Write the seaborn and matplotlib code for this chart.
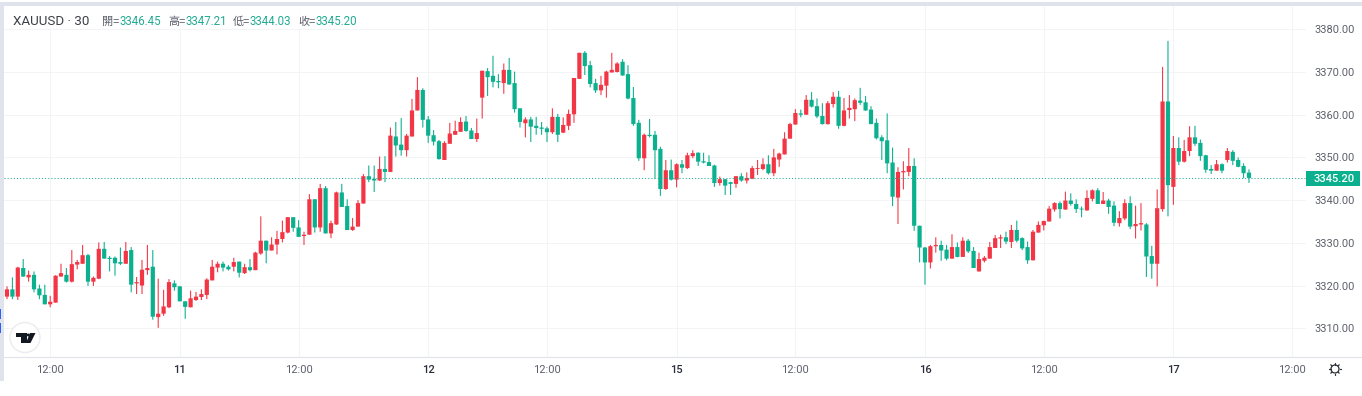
import pandas as pd
import matplotlib
matplotlib.use('Agg')
import matplotlib.pyplot as plt
from matplotlib.patches import Rectangle, Circle, Polygon
import seaborn as sns

opens = [3317.4,3319.1,3317.4,3324.1,3321.9,3322.5,3319.3,3317.8,3315.6,3316.0,
3322.1,3322.5,3320.9,3324.9,3325.1,3327.1,3320.9,3321.6,3328.6,3326.5,
3326.5,3325.5,3325.1,3328.3,3320.5,3320.0,3323.6,3324.4,3312.6,3313.4,
3314.9,3320.5,3319.8,3316.3,3314.9,3316.6,3317.3,3317.8,3321.2,3324.2,
3325.1,3324.4,3324.4,3325.6,3322.9,3324.3,3323.6,3327.5,3330.5,3328.2,
3329.6,3330.9,3332.4,3336.0,3333.6,3331.6,3331.9,3340.2,3333.6,3342.8,
3332.2,3334.3,3341.8,3338.6,3333.0,3333.8,3339.2,3345.6,3345.0,3344.6,
3347.3,3346.6,3354.9,3353.0,3351.7,3354.9,3361.0,3365.8,3358.9,3355.2,
3353.8,3349.4,3353.2,3355.3,3356.0,3358.4,3356.3,3354.3,3364.0,3370.2,
3369.1,3367.9,3367.4,3370.5,3367.4,3361.5,3358.0,3358.9,3357.4,3357.0,
3356.8,3355.9,3359.5,3355.8,3357.4,3360.1,3368.4,3374.5,3371.6,3367.4,
3365.7,3366.8,3369.9,3370.0,3372.4,3369.5,3363.9,3358.1,3349.8,3355.3,
3355.3,3352.0,3342.6,3347.0,3344.8,3348.4,3347.5,3350.3,3351.1,3349.1,
3348.9,3348.1,3344.0,3344.9,3344.2,3343.8,3345.6,3344.6,3345.0,3347.3,
3347.3,3348.4,3346.3,3349.5,3350.7,3354.4,3357.7,3360.3,3360.0,3363.5,
3362.0,3359.7,3357.8,3362.5,3364.2,3357.4,3361.1,3361.3,3363.3,3362.9,
3361.2,3358.1,3354.7,3354.0,3348.8,3340.6,3346.5,3346.6,3348.0,3334.0,
3328.9,3325.4,3329.2,3329.5,3328.4,3326.3,3329.0,3326.7,3330.5,3328.1,
3323.3,3325.8,3326.3,3328.8,3331.0,3331.3,3330.2,3333.0,3331.1,3329.0,
3325.9,3332.4,3334.1,3335.0,3337.8,3339.3,3337.8,3339.9,3339.1,3338.0,
3337.6,3340.3,3342.3,3339.1,3339.9,3338.7,3334.6,3335.7,3339.3,3333.9,
3334.3,3334.3,3326.9,3325.1,3337.9,3363.1,3343.1,3352.2,3349.0,3351.5,
3354.7,3353.4,3350.5,3347.3,3346.9,3348.4,3349.4,3351.3,3349.4,3348.0,
3346.45]
closes = [3319.1,3317.4,3324.2,3322.1,3322.5,3319.1,3317.7,3315.6,3316.2,3322.3,
3322.9,3320.9,3325.0,3325.5,3327.1,3320.9,3321.8,3328.6,3326.3,3326.2,
3325.2,3325.1,3328.1,3320.2,3320.8,3323.7,3324.1,3312.7,3313.4,3315.1,
3320.8,3319.6,3316.3,3315.0,3317.0,3317.4,3318.0,3321.4,3324.4,3325.1,
3324.2,3323.8,3325.5,3323.0,3324.3,3323.6,3327.7,3330.5,3328.2,3329.6,
3330.9,3332.5,3336.0,3333.5,3331.4,3331.9,3340.2,3333.6,3342.8,3332.2,
3334.6,3341.8,3338.4,3333.0,3333.8,3339.3,3345.6,3344.8,3344.6,3347.3,
3346.6,3355.1,3352.8,3351.7,3355.1,3361.0,3365.8,3358.8,3355.1,3353.7,
3349.6,3353.4,3355.6,3356.2,3358.3,3356.2,3354.3,3355.7,3370.3,3368.8,
3367.7,3367.6,3370.5,3367.1,3361.3,3358.3,3358.9,3357.2,3356.9,3356.7,
3355.9,3359.5,3355.3,3357.6,3360.2,3368.6,3374.5,3371.4,3367.2,3365.7,
3367.0,3370.1,3370.5,3372.0,3369.2,3363.8,3357.8,3349.8,3355.3,3355.0,
3351.7,3342.6,3347.0,3344.8,3348.4,3347.6,3350.5,3351.0,3349.0,3348.8,
3348.0,3344.0,3344.9,3343.4,3343.8,3345.6,3344.6,3345.2,3347.5,3347.5,
3348.4,3346.3,3350.0,3350.9,3354.4,3357.8,3360.4,3360.0,3363.5,3361.9,
3359.6,3357.8,3362.7,3364.2,3357.4,3361.0,3361.6,3363.4,3362.8,3361.0,
3357.8,3354.5,3353.8,3348.6,3340.8,3346.6,3346.8,3348.0,3334.0,3328.9,
3325.4,3329.2,3329.5,3328.2,3326.3,3329.0,3326.7,3330.5,3328.0,3324.1,
3326.2,3326.5,3329.0,3331.1,3331.3,3330.3,3333.0,3330.5,3328.7,3325.9,
3332.6,3334.2,3335.1,3338.0,3339.3,3337.9,3339.9,3339.1,3337.9,3337.8,
3340.5,3342.3,3339.1,3339.9,3338.4,3334.7,3335.8,3339.3,3333.8,3334.4,
3334.6,3326.8,3325.1,3338.1,3363.1,3343.5,3352.2,3349.0,3351.5,3354.7,
3353.2,3350.3,3347.1,3346.9,3348.4,3346.9,3351.5,3349.2,3347.8,3346.3,
3345.20]
highs = [3319.8,3321.9,3324.4,3326.2,3323.5,3323.3,3320.2,3320.2,3317.6,3322.4,
3325.1,3324.1,3328.3,3326.0,3329.5,3327.4,3322.1,3330.1,3330.2,3326.9,
3326.8,3328.9,3330.2,3329.0,3322.0,3326.0,3329.5,3328.3,3321.6,3319.0,
3321.5,3321.2,3319.9,3316.3,3318.8,3318.5,3319.1,3321.7,3326.0,3325.6,
3325.6,3324.8,3326.5,3325.6,3325.1,3326.2,3327.9,3336.2,3330.5,3331.3,
3332.8,3335.2,3336.0,3336.0,3335.3,3332.6,3341.4,3340.2,3343.8,3343.3,
3335.2,3342.0,3343.8,3340.2,3335.8,3340.0,3346.1,3348.1,3348.1,3350.2,
3350.3,3357.0,3358.3,3359.2,3355.5,3363.7,3368.8,3366.2,3359.7,3356.4,
3354.1,3353.8,3358.1,3358.6,3359.4,3359.7,3356.9,3359.1,3370.3,3370.9,
3373.8,3369.5,3372.0,3373.3,3370.1,3361.5,3359.4,3359.5,3359.5,3358.3,
3357.2,3361.5,3360.2,3359.4,3361.2,3368.6,3374.5,3374.9,3372.6,3368.4,
3369.1,3370.3,3374.5,3372.3,3373.0,3371.6,3366.5,3358.8,3355.6,3359.0,
3356.2,3352.5,3349.4,3349.5,3348.6,3349.4,3351.1,3351.7,3351.2,3351.1,
3350.5,3348.3,3345.5,3344.9,3344.3,3345.6,3346.3,3346.5,3348.0,3349.4,
3349.8,3350.5,3352.0,3351.1,3355.9,3358.1,3361.3,3361.2,3364.6,3365.3,
3363.8,3362.7,3363.2,3365.3,3365.6,3363.9,3364.6,3363.8,3366.3,3364.4,
3362.0,3359.1,3355.2,3360.3,3352.3,3347.7,3349.1,3352.2,3349.8,3334.0,
3329.0,3329.5,3331.3,3330.5,3329.5,3332.0,3330.1,3331.3,3330.9,3329.0,
3327.7,3326.9,3330.2,3331.8,3331.9,3332.6,3334.2,3335.2,3331.3,3330.3,
3333.0,3335.0,3335.2,3338.6,3339.5,3339.7,3342.0,3341.6,3340.2,3338.5,
3342.3,3342.5,3342.8,3341.9,3340.3,3339.7,3337.4,3340.2,3340.9,3338.7,
3339.3,3334.6,3329.3,3342.5,3371.2,3377.3,3355.0,3354.7,3354.1,3357.3,
3357.4,3354.2,3350.6,3348.2,3349.4,3348.6,3352.2,3351.7,3350.0,3348.6,
3347.21]
lows = [3316.8,3316.8,3316.6,3322.0,3320.9,3318.4,3316.8,3315.6,3314.9,3316.0,
3322.1,3320.7,3320.7,3323.8,3325.1,3319.9,3319.9,3321.5,3326.3,3323.3,
3322.3,3324.8,3325.1,3318.4,3318.0,3318.0,3322.5,3312.0,3310.1,3312.9,
3314.7,3318.8,3316.3,3312.2,3314.9,3316.4,3316.6,3316.8,3321.2,3323.1,
3323.3,3323.5,3323.3,3321.9,3322.7,3323.3,3323.6,3327.2,3325.2,3328.2,
3327.3,3330.1,3332.2,3332.6,3331.4,3329.5,3331.9,3332.4,3332.6,3332.2,
3331.1,3334.2,3338.4,3333.0,3332.8,3333.8,3339.2,3344.2,3341.9,3344.5,
3344.2,3346.6,3350.2,3350.4,3350.2,3354.9,3361.0,3357.0,3353.4,3352.8,
3349.5,3349.4,3353.2,3355.3,3356.0,3356.0,3354.3,3353.6,3359.1,3364.4,
3366.4,3366.2,3364.9,3367.0,3360.5,3357.0,3354.7,3353.6,3355.3,3355.3,
3353.6,3355.5,3353.6,3355.7,3356.4,3358.1,3368.4,3369.3,3366.4,3365.1,
3364.6,3364.0,3369.9,3369.9,3369.1,3363.6,3357.4,3349.2,3347.0,3354.7,
3345.0,3341.0,3342.4,3344.6,3343.0,3346.3,3347.3,3349.8,3348.0,3348.6,
3348.0,3343.1,3343.4,3341.2,3341.2,3342.9,3344.3,3343.9,3344.9,3345.9,
3347.0,3346.0,3345.6,3347.8,3350.7,3354.4,3357.7,3359.4,3360.0,3361.7,
3359.2,3357.7,3357.7,3361.7,3356.7,3357.3,3359.1,3358.5,3362.3,3360.9,
3357.8,3354.2,3349.4,3346.3,3338.6,3334.4,3342.5,3345.6,3332.8,3325.4,
3320.2,3324.0,3327.7,3325.8,3325.9,3326.3,3326.6,3326.7,3327.6,3324.1,
3323.3,3325.4,3326.3,3328.8,3328.8,3329.7,3328.8,3330.1,3328.3,3325.1,
3325.9,3332.4,3332.9,3335.0,3337.3,3335.7,3337.7,3338.7,3337.0,3336.0,
3337.5,3339.7,3339.1,3339.1,3336.8,3333.9,3333.8,3335.3,3333.2,3331.0,
3332.9,3322.0,3321.6,3319.8,3337.3,3336.2,3338.9,3348.2,3348.8,3350.3,
3352.7,3349.2,3346.4,3346.1,3346.9,3346.3,3348.8,3348.2,3347.7,3345.1,
3344.03]

y_ticks = [3310, 3320, 3330, 3340, 3350, 3360, 3370, 3380]
x_tick_bars = [8, 32, 54, 78, 100, 124, 146, 170, 192, 216, 238]
x_tick_labels = ['12:00', '11', '12:00', '12', '12:00', '15', '12:00', '16', '12:00', '17', '12:00']

UP = '#f23645'
DOWN = '#0bb08f'
TEAL = '#22ab94'
GRID = '#f3f4f6'
EDGE = '#e0e3eb'
TICK = '#5d606b'

sns.set_style('white')
plt.rcParams['font.family'] = ['Roboto', 'Noto Sans CJK TC', 'DejaVu Sans']

df = pd.DataFrame({'bar': range(len(opens)), 'open': opens, 'high': highs, 'low': lows, 'close': closes})
df['up'] = df.close >= df.open
df['body_low'] = df[['open', 'close']].min(axis=1)
df['body'] = (df.open - df.close).abs()
df['wick'] = df.high - df.low

fig = plt.figure(figsize=(13.62, 3.96), dpi=100)
# chart pane in picture pixels: x 4-1306, y 6-357
ax = fig.add_axes([4 / 1362, 1 - 357 / 396, 1302 / 1362, 351 / 396])

for is_up, col in [(True, UP), (False, DOWN)]:
    sub = df[df.up == is_up]
    sns.barplot(data=sub, x='bar', y='wick', bottom=sub.low.to_numpy(), native_scale=True, width=0.2,
                color=col, saturation=1, errorbar=None, linewidth=0, snap=False, ax=ax)
    sns.barplot(data=sub, x='bar', y='body', bottom=sub.body_low.to_numpy(), native_scale=True, width=0.78,
                color=col, saturation=1, errorbar=None, linewidth=0, snap=False, ax=ax)

ax.axhline(closes[-1], color=TEAL, lw=0.75, ls=(0, (1, 2)), zorder=3)

ax.set_xlim(-0.556, 240.56)
ax.set_ylim(3303.26, 3385.46)
ax.yaxis.tick_right()
ax.set_yticks(y_ticks)
ax.set_yticklabels(['%.2f' % v for v in y_ticks], fontsize=7.9, color=TICK)
ax.set_xticks(x_tick_bars)
ax.set_xticklabels(x_tick_labels, fontsize=8, color=TICK)
for lab in ax.get_xticklabels():
    if ':' not in lab.get_text():
        lab.set_color('#2a2e39')
        lab.set_fontweight('medium')
ax.tick_params(axis='y', length=0, pad=6.2)
ax.tick_params(axis='x', length=0, pad=6)
ax.set_xlabel('')
ax.set_ylabel('')
ax.set_axisbelow(True)
ax.grid(True, color=GRID, lw=0.72)
sns.despine(ax=ax, left=True, right=True, top=True, bottom=True)

# page chrome, drawn in picture pixels
ch = fig.add_axes([0, 0, 1, 1], zorder=5)
ch.set_xlim(0, 1362)
ch.set_ylim(396, 0)
ch.axis('off')
ch.patch.set_alpha(0)
ch.add_patch(Rectangle((0, 2), 1362, 4, color=EDGE, lw=0))
ch.add_patch(Rectangle((0, 2), 4, 379, color=EDGE, lw=0))
ch.add_patch(Rectangle((0, 309), 1, 10, color='#2962ff', lw=0))
ch.add_patch(Rectangle((0, 323), 1, 10, color='#2962ff', lw=0))
ch.plot([4, 1362], [357, 357], color=EDGE, lw=0.8)

# header
ch.add_patch(Rectangle((4, 6), 358, 23, color='white', alpha=0.85, lw=0))
ch.text(13, 21.5, 'XAUUSD · 30', fontsize=9.6, color='#3c3f47', va='center')
for lx, lab, vx, val in [(102, '開=', 120, opens[-1]), (168, '高=', 185, highs[-1]),
                         (233, '低=', 250, lows[-1]), (298, '收=', 315, closes[-1])]:
    ch.text(lx, 21.5, lab, fontsize=8, color=TICK, va='center', family=['Noto Sans CJK TC', 'DejaVu Sans'])
    ch.text(vx, 21.5, '%.2f' % val, fontsize=8.3, color=TEAL, va='center')

# last price tag
ch.add_patch(Rectangle((1306, 171), 54, 15, color=DOWN, lw=0))
ch.text(1334, 178.5, '%.2f' % closes[-1], fontsize=8, color='white', va='center', ha='center', fontweight='medium')

# logo badge
ch.add_patch(Circle((25, 337.5), 15, fc='white', ec='#ececf0', lw=1))
ch.add_patch(Polygon([(16, 333), (26.5, 333), (26.5, 343), (21, 343), (21, 337), (16, 337)], color='#131722', lw=0))
ch.add_patch(Circle((28.3, 335), 1.5, color='#131722', lw=0))
ch.add_patch(Polygon([(30, 333), (35.5, 333), (30.5, 343), (26, 343)], color='#131722', lw=0))

# settings gear
ch.add_patch(Circle((1335, 369), 4, fc='none', ec='#2a2e39', lw=0.9))
for dx, dy in [(0, 6), (0, -6), (6, 0), (-6, 0), (4.2, 4.2), (-4.2, 4.2), (4.2, -4.2), (-4.2, -4.2)]:
    ch.plot([1335 + dx * 0.75, 1335 + dx], [369 + dy * 0.75, 369 + dy], color='#2a2e39', lw=0.9)

fig.savefig('out.png', dpi=100)
